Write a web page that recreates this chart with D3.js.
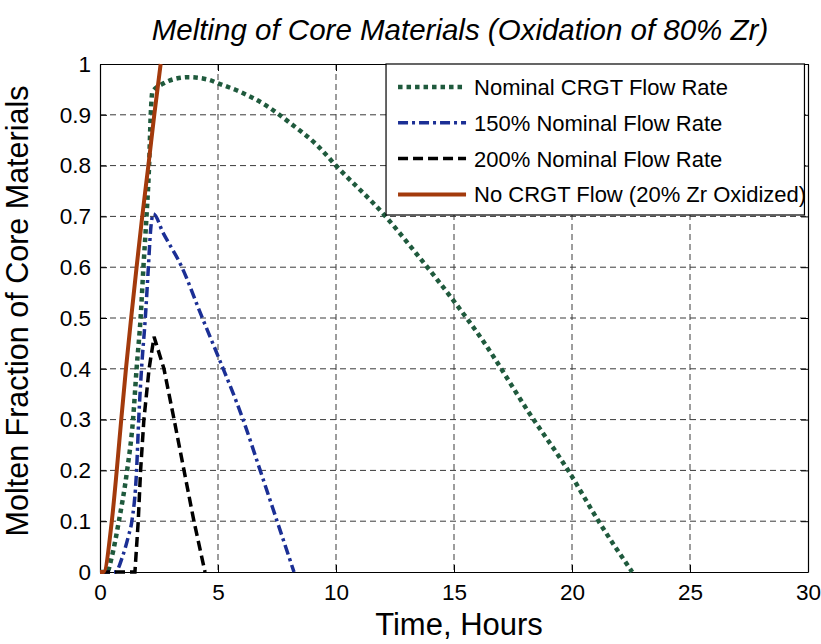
<!DOCTYPE html>
<html lang='en'>
<head>
  <meta charset='UTF-8'>
  <title>Melting of Core Materials</title>
  <style>
  body {
    margin: 0;
    background: white;
  }
  text {
    font-family: 'Liberation Sans', Arial, sans-serif;
    fill: black;
  }
  .tick text {
    font-size: 22.5px;
  }
  .grid line {
    stroke: #3a3a3a;
    stroke-dasharray: 6,4;
    stroke-width: 1;
  }
  .legend text {
    font-size: 22px;
  }
  </style>
  <script src='https://d3js.org/d3.v7.min.js'></script>
</head>
<body>
  <script>

  // data: [hours, molten fraction]
  var nominalFlow = [[0, 0], [0.3, 0], [0.5, 0.03], [0.8, 0.1], [1.15, 0.2], [1.4, 0.3], [1.55, 0.4],
    [1.72, 0.5], [1.84, 0.6], [1.97, 0.7], [2.08, 0.8], [2.15, 0.9], [2.22, 0.945], [2.7, 0.962],
    [3.2, 0.971], [3.75, 0.974], [4.6, 0.969], [5.0, 0.962], [5.9, 0.946], [7.05, 0.918],
    [8.05, 0.884], [9.2, 0.84], [10, 0.8], [12.1, 0.7], [13.4, 0.627], [14.9, 0.539],
    [16.2, 0.457], [18.2, 0.312], [19.85, 0.199], [21.1, 0.102], [22.55, 0]];
  var flow150 = [[0, 0], [0.65, 0], [0.95, 0.03], [1.2, 0.07], [1.35, 0.1], [1.55, 0.2], [1.64, 0.3],
    [1.76, 0.4], [1.92, 0.5], [2.05, 0.6], [2.14, 0.67], [2.26, 0.705], [2.68, 0.667],
    [3.46, 0.601], [4.31, 0.503], [5.01, 0.424], [6.07, 0.299], [6.78, 0.201], [7.49, 0.102],
    [8.22, 0]];
  var flow200 = [[0, 0], [1.48, 0], [1.62, 0.1], [1.72, 0.2], [1.86, 0.3], [2.08, 0.4], [2.29, 0.463],
    [2.71, 0.4], [3.14, 0.3], [3.56, 0.2], [3.98, 0.1], [4.45, 0]];
  var noFlow = [[0, 0], [0.15, 0], [0.5, 0.1], [0.71, 0.2], [0.9, 0.3], [1.1, 0.4], [1.32, 0.5],
    [1.55, 0.6], [1.79, 0.7], [2.05, 0.8], [2.3, 0.9], [2.57, 1.0]];

  var seriesNames = ['Nominal CRGT Flow Rate', '150% Nominal Flow Rate', '200% Nominal Flow Rate',
    'No CRGT Flow (20% Zr Oxidized)'];
  var xTicks = [0, 5, 10, 15, 20, 25, 30];
  var yTicks = [0, 0.1, 0.2, 0.3, 0.4, 0.5, 0.6, 0.7, 0.8, 0.9, 1];

  var styles = [
    { color: '#1f5a3d', width: 4.5, dash: '4.5,4' },
    { color: '#1b2f95', width: 3.5, dash: '10,4,3,4' },
    { color: '#000000', width: 3.5, dash: '10,5' },
    { color: '#a33a0c', width: 4, dash: null }
  ];

  var svgWidth = 821;
  var svgHeight = 644;
  var margin = { top: 64, right: 13, bottom: 72, left: 100 };
  var width = svgWidth - margin.left - margin.right;
  var height = svgHeight - margin.top - margin.bottom;

  var svg = d3.select('body').append('svg')
    .attr('width', svgWidth)
    .attr('height', svgHeight);

  var x = d3.scaleLinear().domain([0, 30]).range([0, width]);
  var y = d3.scaleLinear().domain([0, 1]).range([height, 0]);

  var g = svg.append('g').attr('transform', 'translate(' + margin.left + ',' + margin.top + ')');

  g.append('clipPath').attr('id', 'plot-clip')
    .append('rect').attr('x', -3).attr('y', -1).attr('width', width + 3).attr('height', height + 3);

  // grid

  var grid = g.append('g').attr('class', 'grid');
  grid.selectAll('.vx')
    .data(xTicks.slice(1, -1))
    .enter().append('line')
    .attr('x1', function (d) { return x(d); })
    .attr('x2', function (d) { return x(d); })
    .attr('y1', 0)
    .attr('y2', height);
  grid.selectAll('.hy')
    .data(yTicks.slice(1, -1))
    .enter().append('line')
    .attr('x1', 0)
    .attr('x2', width)
    .attr('y1', function (d) { return y(d); })
    .attr('y2', function (d) { return y(d); });

  // axes (MATLAB style: ticks inside, box all round)

  var tickLen = 7;

  var xAxis = g.append('g')
    .attr('transform', 'translate(0,' + height + ')')
    .call(d3.axisBottom(x).tickValues(xTicks).tickSizeInner(-tickLen).tickSizeOuter(0).tickPadding(12));
  var yAxis = g.append('g')
    .call(d3.axisLeft(y).tickValues(yTicks).tickSizeInner(-tickLen).tickSizeOuter(0).tickPadding(9)
      .tickFormat(d3.format('~g')));
  var xTop = g.append('g')
    .call(d3.axisTop(x).tickValues(xTicks).tickSizeInner(-tickLen).tickSizeOuter(0).tickFormat(''));
  var yRight = g.append('g')
    .attr('transform', 'translate(' + width + ',0)')
    .call(d3.axisRight(y).tickValues(yTicks).tickSizeInner(-tickLen).tickSizeOuter(0).tickFormat(''));

  [xAxis, yAxis, xTop, yRight].forEach(function (a) {
    a.selectAll('.domain').attr('stroke', 'black').attr('stroke-width', 1.2);
    a.selectAll('line').attr('stroke', 'black');
    a.selectAll('text').attr('font-family', null).attr('font-size', null);
  });
  xAxis.selectAll('text').attr('dy', '0.71em');

  // curves

  var line = d3.line()
    .x(function (d) { return x(d[0]); })
    .y(function (d) { return y(d[1]); });

  var allSeries = [nominalFlow, flow150, flow200, noFlow];

  var curves = g.append('g').attr('clip-path', 'url(#plot-clip)');
  allSeries.forEach(function (s, i) {
    line.curve(i === 2 ? d3.curveLinear : d3.curveMonotoneX);
    curves.append('path')
      .datum(s)
      .attr('fill', 'none')
      .attr('stroke', styles[i].color)
      .attr('stroke-width', styles[i].width)
      .attr('stroke-dasharray', styles[i].dash)
      .attr('d', line);
  });

  // legend

  var legend = g.append('g').attr('class', 'legend').attr('transform', 'translate(' + (x(12.12)) + ',0)');
  legend.append('rect')
    .attr('x', 0)
    .attr('y', 0)
    .attr('width', x(29.85) - x(12.12))
    .attr('height', 151)
    .attr('fill', 'white')
    .attr('stroke', 'black')
    .attr('stroke-width', 1.2);

  var rows = legend.selectAll('.row')
    .data(seriesNames)
    .enter().append('g')
    .attr('transform', function (d, i) { return 'translate(0,' + (23 + i * 35.8) + ')'; });
  rows.append('line')
    .attr('x1', 12)
    .attr('x2', 80)
    .attr('y1', 0)
    .attr('y2', 0)
    .attr('stroke', function (d, i) { return styles[i].color; })
    .attr('stroke-width', function (d, i) { return styles[i].width; })
    .attr('stroke-dasharray', function (d, i) { return styles[i].dash; });
  rows.append('text')
    .attr('x', 88)
    .attr('dy', '0.36em')
    .text(function (d) { return d; });

  // titles

  svg.append('text')
    .attr('x', 460)
    .attr('y', 40)
    .attr('text-anchor', 'middle')
    .attr('font-size', 29.5)
    .attr('font-style', 'italic')
    .text('Melting of Core Materials (Oxidation of 80% Zr)');

  svg.append('text')
    .attr('x', 459)
    .attr('y', 635)
    .attr('text-anchor', 'middle')
    .attr('font-size', 31)
    .text('Time, Hours');

  svg.append('text')
    .attr('transform', 'translate(28,' + 311 + ') rotate(-90)')
    .attr('text-anchor', 'middle')
    .attr('font-size', 30.5)
    .text('Molten Fraction of Core Materials');
  </script>
</body>
</html>
